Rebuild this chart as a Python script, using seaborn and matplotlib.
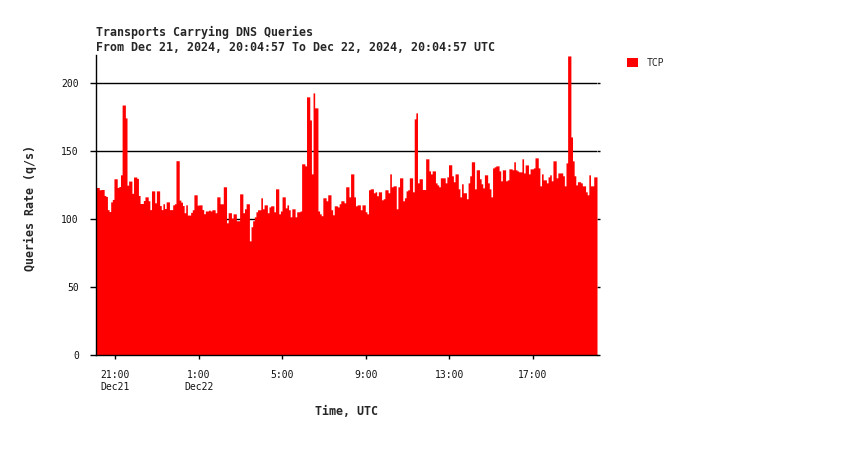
import numpy as np
import pandas as pd
import matplotlib
matplotlib.use("Agg")
import matplotlib.pyplot as plt
from matplotlib.patches import Patch
import seaborn as sns

# ---------------- data ----------------
title_lines = ["Transports Carrying DNS Queries",
               "From Dec 21, 2024, 20:04:57 To Dec 22, 2024, 20:04:57 UTC"]
start_time = "2024-12-21 20:04:57"
end_time = "2024-12-22 20:04:57"
series_name = "TCP"

tcp_qps = [
    123.3, 123.3, 121.6, 121.8, 121.8, 117.4, 116.7, 107, 105.6, 112.7, 114.5,
    129.7, 129.7, 123.3, 124, 132.6, 184, 184, 174.5, 125, 128, 128, 119,
    131, 131, 130, 117.4, 111.5, 111.5, 113.7, 116.4, 116.4, 113.5, 107,
    120.8, 120.8, 112, 120.8, 120.8, 110, 107, 111.3, 107.8, 112.7, 112.7,
    107, 107, 110.5, 111.3, 143, 143, 114, 112.5, 110, 104.7, 110.5, 103, 103,
    105, 106.9, 117.9, 117.9, 110.3, 110.5, 110.5, 107, 104, 106, 106, 106.6,
    106, 106.9, 106.9, 104.7,
    116.4, 116.4, 111.3, 111.3, 123.8, 123.8, 97.3, 104.7, 104.7, 100.7,
    103.9, 103.9, 98.8, 98.8, 118.6, 118.6, 104.7, 107.6, 111.3, 111.3, 84,
    94.4, 98.8, 101.7, 105.4, 106.9, 106.9, 115.7, 107.6, 110.5, 110.5, 104.7,
    109, 109.8, 109.8, 105.4, 122.3, 122.3, 103.9, 106, 116.4, 116.4, 108.3,
    110.5, 106.9, 101.7, 107.6, 107.6, 101.7, 105.4, 105.4, 106, 140.7, 140.7,
    139.2, 190, 190, 173, 133.3, 192.9, 181.9, 181.9, 106, 103.9, 102.5,
    115.7, 115.7, 113.5, 117.9, 117.9, 106.9, 103.2, 109.8, 109.8, 109, 111.3,
    113.5, 113.5, 112, 123.8, 123.8, 116.4, 133.3, 133.3, 116.4, 109.8, 110.5,
    110.5, 106.9, 110.5, 110.5, 105.4, 103.9, 121.6, 122.3, 122.3, 119.4,
    120.1, 117.2, 120.1, 120.1, 114.2, 115, 121.6, 121.6, 119.4, 133.3, 123.8,
    124.5, 124.5, 107.6, 123.8, 130.4, 130.4, 113.5, 115.7, 120.8, 121.6,
    130.4, 130.4, 120.1, 173.8, 178.2, 126.7, 129.7, 129.7, 121.8, 121.8,
    144.4, 144.4, 135.5, 133.3, 135.5, 135.5, 126.7, 125.2, 123.8, 130.4,
    130.4, 130.4, 126.7, 131.1, 140, 140, 131.9, 127.5, 133.3, 133.3, 122.3,
    116.4, 126,
    119.4, 119.4, 115, 126.7, 131.9, 142.2, 142.2, 122.3, 136.3, 136.3, 129.7,
    126, 123, 132.6, 132.6, 126.7, 122.3, 116.4, 137.7, 138.5, 139.2, 139.2,
    135.5, 128.2, 136.3, 136.3, 128.2, 128.9, 137, 137, 136.3, 142.2, 136.3,
    135.5, 134.8, 134.8, 144.4, 134, 139.9, 139.9, 133.3, 137, 137, 137.7,
    145.1, 145.1, 137.7, 124.5, 133.3, 128.9, 128.9, 126.7, 131.1, 132.6,
    128.2, 142.9, 142.9, 130.4, 134, 134, 134, 131.9, 124.5, 141.4, 220.1,
    220.1, 160.5, 142.9, 131.9, 125.2, 127.5, 127.5, 126.7, 124.5, 124.5,
    120.1, 117.9, 132.6, 124.5, 124.5, 131.1, 131.1,
]

tick_times = ["2024-12-21 21:00", "2024-12-22 01:00", "2024-12-22 05:00",
              "2024-12-22 09:00", "2024-12-22 13:00", "2024-12-22 17:00"]
tick_labels = ["21:00\nDec21", "1:00\nDec22", "5:00", "9:00", "13:00", "17:00"]
y_ticks = [0, 50, 100, 150, 200]

# ---------------- derived (scales) ----------------
t0 = pd.Timestamp(start_time)
span_h = (pd.Timestamp(end_time) - t0).total_seconds() / 3600.0
n = len(tcp_qps)
step = span_h / n
mids = (np.arange(n) + 0.5) * step
tick_pos = [(pd.Timestamp(t) - t0).total_seconds() / 3600.0 for t in tick_times]

df = pd.DataFrame({"hours": mids, "qps": tcp_qps})

# ---------------- plot ----------------
sns.set_style("white")
plt.rcParams["font.family"] = ["DejaVu Sans Mono", "DejaVu Sans"]

W, H = 850, 450
fig = plt.figure(figsize=(W / 100, H / 100), dpi=100)
ax = fig.add_axes([96 / W, 1 - 355 / H, (597 - 96) / W, 300 / H])

sns.histplot(data=df, x="hours", weights="qps", bins=n, binrange=(0, span_h),
             element="step", fill=True, color="#ff0000", alpha=1, linewidth=0,
             ax=ax)

ax.set_xlim(0, span_h)
ax.set_ylim(0, 220.8)
ax.set_yticks(y_ticks)
ax.set_yticklabels([str(v) for v in y_ticks])
ax.set_xticks(tick_pos)
ax.set_xticklabels(tick_labels, linespacing=1.25)

ax.set_axisbelow(True)
ax.yaxis.grid(True, color="black", linewidth=1)
ax.xaxis.grid(False)

for s in ["top", "right"]:
    ax.spines[s].set_visible(False)
for s in ["left", "bottom"]:
    ax.spines[s].set_color("black")
    ax.spines[s].set_linewidth(1)

ax.tick_params(axis="y", which="both", left=True, right=True, direction="out",
               width=1, color="black", labelsize=7, pad=8, labelcolor="#111111")
ax.yaxis.set_tick_params(which="major", length=4.3)
for t in ax.yaxis.get_major_ticks():
    t.tick2line.set_markersize(2)
ax.tick_params(axis="x", bottom=True, direction="out", length=3, width=1,
               color="black", labelsize=7, pad=8, labelcolor="#111111")

ax.set_ylabel("Queries Rate (q/s)", fontsize=8.35, fontweight="bold")
ax.yaxis.set_label_coords(-0.118, 0.49)
ax.set_xlabel("Time, UTC", fontsize=8.35, fontweight="bold")
ax.xaxis.set_label_coords(0.5, -0.166)

fig.text(96 / W, 1 - 36 / H, title_lines[0], fontsize=8.35, fontweight="bold",
         va="baseline", ha="left")
fig.text(96 / W, 1 - 51 / H, title_lines[1], fontsize=8.35, fontweight="bold",
         va="baseline", ha="left")

fig.legend(handles=[Patch(facecolor="#ff0000", edgecolor="none", label=series_name)],
           loc="upper left", bbox_to_anchor=(627 / W, 1 - 58 / H),
           frameon=False, fontsize=7, handlelength=1.1, handleheight=1.1,
           handletextpad=0.9, borderpad=0, borderaxespad=0)

fig.savefig("out.png", dpi=100, facecolor="white")
